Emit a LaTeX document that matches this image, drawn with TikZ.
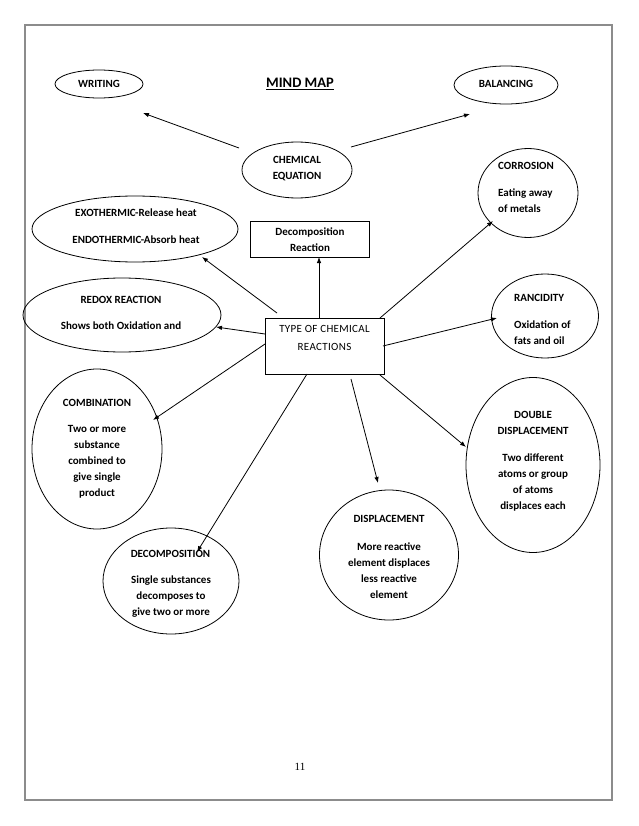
\documentclass[tikz,border=0pt]{standalone}
\usepackage{fontspec}
\setmainfont{Carlito}
\newfontfamily\serifnum{Liberation Serif}
\newfontfamily\spacedfont[LetterSpace=3]{Carlito}
\usetikzlibrary{shapes.geometric,arrows.meta}
\begin{document}
\begin{tikzpicture}[x=1pt,y=-1pt,
  shp/.style={draw=black,line width=0.8pt,ellipse,inner sep=0pt},
  boxs/.style={draw=black,line width=0.8pt,rectangle,inner sep=0pt},
  txt/.style={font=\fontsize{11}{16}\selectfont\bfseries,align=center,inner sep=0pt},
  ltxt/.style={font=\fontsize{11}{16}\selectfont\bfseries,align=left,inner sep=0pt,anchor=west},
  arr/.style={line width=0.8pt,-{Latex[length=6pt,width=4.5pt]}}]
\useasboundingbox (0,0) rectangle (638,826);
\fill[white] (0,0) rectangle (638,826);
% page frame
\draw[color=black!45,line width=1.2pt] (25,25) rectangle (612,800);
% shapes
\node[shp,minimum width=88,minimum height=28] (writing) at (99,84) {};
\node[shp,minimum width=104,minimum height=38] (balancing) at (506,85) {};
\node[shp,minimum width=110,minimum height=56] (chemeq) at (297,170) {};
\node[shp,minimum width=206,minimum height=66] (exo) at (135,229) {};
\node[boxs,minimum width=119,minimum height=36] (decbox) at (309.5,239) {};
\node[boxs,minimum width=119,minimum height=56] (type) at (324.5,346) {};
\node[shp,minimum width=198,minimum height=74] (redox) at (122,315) {};
\node[shp,minimum width=130,minimum height=160] (comb) at (97,449) {};
\node[shp,minimum width=136,minimum height=106] (decomp) at (171,581) {};
\node[shp,minimum width=139,minimum height=130] (displ) at (389,555) {};
\node[shp,minimum width=134,minimum height=175] (dbl) at (533,465) {};
\node[shp,minimum width=100,minimum height=89] (corr) at (528,193) {};
\node[shp,minimum width=107,minimum height=84] (ranc) at (545,316) {};
% texts
\node[txt] (writingT) at (99,84) {WRITING};
\node[txt] (balT) at (506,84) {BALANCING};
\node[txt,font=\fontsize{14.5}{17}\selectfont\bfseries] (title) at (300,84) {\underline{MIND MAP}};
\node[txt] (chemeqT) at (297,168.5) {CHEMICAL\\EQUATION};
\node[txt] (decboxT) at (310,240) {Decomposition\\Reaction};
\node[txt] (exoT) at (136,226.5) {EXOTHERMIC-Release heat\\[11pt]ENDOTHERMIC-Absorb heat};
\node[txt] (redoxT) at (121,313) {REDOX REACTION\\[10pt]Shows both Oxidation and};
\node[txt,font=\spacedfont\fontsize{11}{18}\selectfont] (typeT) at (324.5,338) {TYPE OF CHEMICAL\\REACTIONS};
\node[txt] (combT) at (97,403) {COMBINATION};
\node[txt] (combB) at (97,462) {Two or more\\substance\\combined to\\give single\\product};
\node[txt] (decompT) at (170.5,554) {DECOMPOSITION};
\node[txt] (decompB) at (171,597) {Single substances\\decomposes to\\give two or more};
\node[txt] (displT) at (389,519) {DISPLACEMENT};
\node[txt] (displB) at (389,571) {More reactive\\element displaces\\less reactive\\element};
\node[txt] (dblT) at (533,422.5) {DOUBLE\\DISPLACEMENT};
\node[txt] (dblB) at (533,482) {Two different\\atoms or group\\of atoms\\displaces each};
\node[ltxt] (corrT) at (498,166) {CORROSION};
\node[ltxt] (corrB) at (498,200.5) {Eating away\\of metals};
\node[ltxt] (rancT) at (514,298) {RANCIDITY};
\node[ltxt] (rancB) at (514,333) {Oxidation of\\fats and oil};
\node[font=\serifnum\fontsize{11}{13}\selectfont,inner sep=0pt] (pagenum) at (300,767) {11};
% arrow end points
\coordinate (ceW) at (239,148); \coordinate (wrE) at (143,113);
\coordinate (ceB) at (351,147); \coordinate (baE) at (470,114);
\coordinate (tExo) at (277,313); \coordinate (exoE) at (202,257);
\coordinate (tDec) at (319,318); \coordinate (decE) at (319,257);
\coordinate (tRed) at (265,334); \coordinate (redE) at (216,327);
\coordinate (tCom) at (265,344); \coordinate (comE) at (153,420);
\coordinate (tDcm) at (307,374); \coordinate (dcmE) at (197,552);
\coordinate (tDis) at (351,379); \coordinate (disE) at (378,483);
\coordinate (tDbl) at (380,375); \coordinate (dblE) at (466,447);
\coordinate (tCor) at (380,318); \coordinate (corE) at (493,221);
\coordinate (tRan) at (383,346); \coordinate (ranE) at (497,318);
% arrows
\draw[arr] (ceW) -- (wrE);
\draw[arr] (ceB) -- (baE);
\draw[arr] (tExo) -- (exoE);
\draw[arr] (tDec) -- (decE);
\draw[arr] (tRed) -- (redE);
\draw[arr] (tCom) -- (comE);
\draw[arr] (tDcm) -- (dcmE);
\draw[arr] (tDis) -- (disE);
\draw[arr] (tDbl) -- (dblE);
\draw[arr] (tCor) -- (corE);
\draw[arr] (tRan) -- (ranE);
\end{tikzpicture}
\end{document}
